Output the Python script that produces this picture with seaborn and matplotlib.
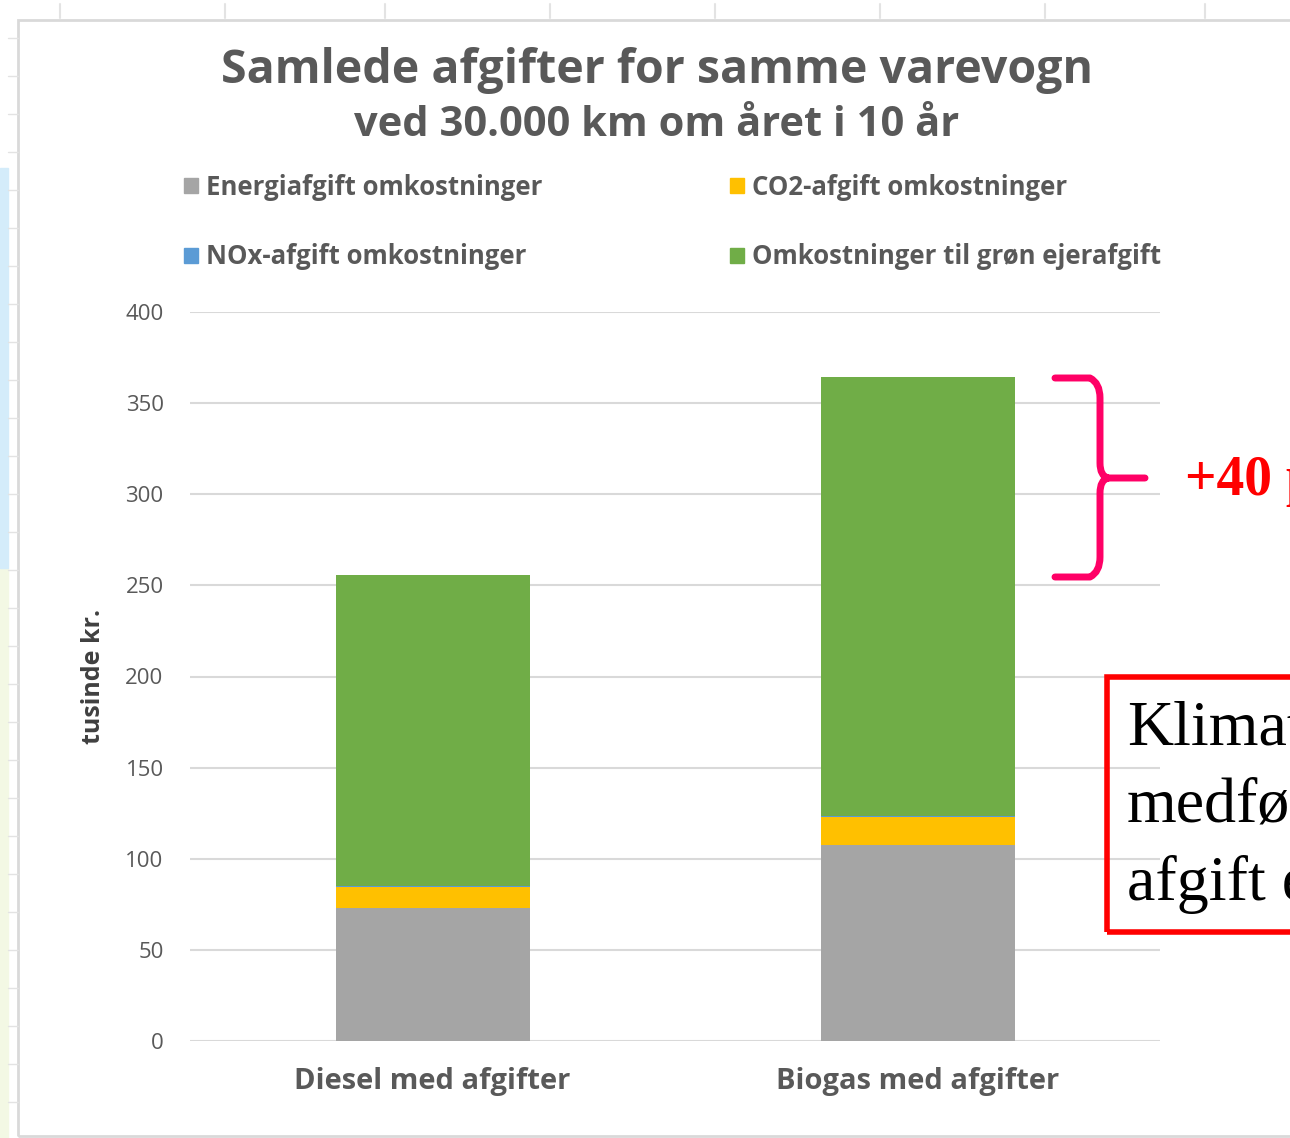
import numpy as np
import pandas as pd
import seaborn as sns
import matplotlib.pyplot as plt
from matplotlib.patches import Patch, Rectangle, PathPatch
from matplotlib.path import Path

# Data (tusinde kr.)
kategorier = ['Diesel med afgifter', 'Biogas med afgifter']
energiafgift = [73, 107.5]
co2_afgift = [11.5, 15.5]
nox_afgift = [0.5, 0.5]
groen_ejerafgift = [170.5, 241]

serier = ['Energiafgift omkostninger', 'CO2-afgift omkostninger',
          'NOx-afgift omkostninger', 'Omkostninger til grøn ejerafgift']
farver = ['#A5A5A5', '#FFC000', '#5B9BD5', '#70AD47']

df = pd.DataFrame({'kategori': kategorier,
                   serier[0]: energiafgift,
                   serier[1]: co2_afgift,
                   serier[2]: nox_afgift,
                   serier[3]: groen_ejerafgift})
# kumulerede summer til stablede søjler
kum = df[serier].cumsum(axis=1)
kum['kategori'] = df['kategori']

sns.set_style('white')
plt.rcParams['font.family'] = ['Open Sans', 'DejaVu Sans']

W, H = 1290, 1138
fig = plt.figure(figsize=(W / 100, H / 100), dpi=100)
fig.patch.set_facecolor('white')

def fy(p):
    return 1 - p / H

# regnearks-baggrund
fig.add_artist(Rectangle((0, 0), 8 / W, 570 / H, transform=fig.transFigure,
                         color='#F3F8E4', zorder=0))
fig.add_artist(Rectangle((0, 570 / H), 8 / W, 400 / H, transform=fig.transFigure,
                         color='#D4ECFA', zorder=0))
fig.add_artist(Rectangle((18 / W, 2 / H), 1.0, 1116 / H, transform=fig.transFigure,
                         fill=False, edgecolor='#D9D9D9', lw=2, zorder=0))
for xv in [60, 225, 385, 550, 715, 880, 1045, 1205]:
    fig.add_artist(plt.Line2D([xv / W, xv / W], [fy(4), fy(18)],
                              transform=fig.transFigure, color='#E3E3E3', lw=1.5))
for yv in range(38, 1138, 38):
    fig.add_artist(plt.Line2D([8 / W, 18 / W], [fy(yv), fy(yv)],
                              transform=fig.transFigure, color='#E3E3E3', lw=1))

ax = fig.add_axes([190 / W, 97 / H, 970 / W, 729 / H])

# stablede søjler: tegn totaler oppefra og ned
for s, c in zip(serier[::-1], farver[::-1]):
    sns.barplot(data=kum, x='kategori', y=s, color=c, width=0.4,
                saturation=1, linewidth=0, ax=ax, zorder=2)

ax.set_xlim(-0.5, 1.5)
ax.set_ylim(0, 400)
ax.set_yticks(np.arange(0, 401, 50))
ax.yaxis.grid(True, color='#D9D9D9', lw=1.5, zorder=0)
ax.set_axisbelow(True)
sns.despine(ax=ax, left=True, bottom=True)
ax.tick_params(axis='y', length=0, pad=19, labelsize=16, labelcolor='#595959')
ax.tick_params(axis='x', length=0, pad=19, labelsize=21, labelcolor='#595959')
for t in ax.get_xticklabels():
    t.set_fontweight('bold')
ax.set_xlabel('')
ax.set_ylabel('tusinde kr.', fontsize=18, fontweight='bold', color='#404040', labelpad=14)

# titler
fig.text(657 / W, fy(70), 'Samlede afgifter for samme varevogn', ha='center', va='center',
         fontsize=33.5, fontweight='bold', color='#595959')
fig.text(657 / W, fy(125), 'ved 30.000 km om året i 10 år', ha='center', va='center',
         fontsize=30, fontweight='bold', color='#595959')

# forklaring (rækkevis: Energi, CO2 / NOx, grøn)
orden = [0, 2, 1, 3]
handles = [Patch(color=farver[i]) for i in orden]
labels = [serier[i] for i in orden]
fig.legend(handles, labels, ncol=2, loc='center left',
           bbox_to_anchor=(161 / W, fy(222)), frameon=False,
           prop={'size': 18.5, 'weight': 'bold'}, labelcolor='#595959',
           handlelength=0.55, handleheight=0.55, handletextpad=0.3,
           labelspacing=1.67, columnspacing=7.3)

# klamme-annotation
bx0, bx1, by0, by1, bym = 1055, 1145, 378, 577, 478
verts = [(bx0, by0), (1090, by0), (1100, by0 + 5), (1100, by0 + 20),
         (1100, bym - 15), (1100, bym - 2), (1108, bym), (bx1, bym),
         (1108, bym), (1100, bym + 2), (1100, bym + 15),
         (1100, by1 - 20), (1100, by1 - 5), (1090, by1), (bx0, by1)]
codes = [Path.MOVETO, Path.LINETO, Path.CURVE3, Path.CURVE3,
         Path.LINETO, Path.CURVE3, Path.CURVE3, Path.LINETO,
         Path.MOVETO, Path.CURVE3, Path.CURVE3,
         Path.LINETO, Path.CURVE3, Path.CURVE3, Path.LINETO]
verts = [(x / W, fy(y)) for x, y in verts]
fig.add_artist(PathPatch(Path(verts, codes), transform=fig.transFigure, fill=False,
                         edgecolor='#FF0066', lw=5, capstyle='round', joinstyle='round'))
fig.text(1185 / W, fy(481), '+40 procent', ha='left', va='center', fontsize=40,
         fontweight='bold', color='#FF0000', family='Liberation Serif')

# rød tekstboks
fig.add_artist(Rectangle((1107 / W, fy(932)), 300 / W, 255 / H, transform=fig.transFigure,
                         fill=False, edgecolor='#FF0000', lw=4))
for i, linje in enumerate(['Klimatilpasset', 'medfører', 'afgift efter']):
    fig.text(1127 / W, fy(730 + 77 * i), linje, ha='left', va='center', fontsize=46,
             color='black', family='Liberation Serif')

fig.savefig('out.png', dpi=100)
